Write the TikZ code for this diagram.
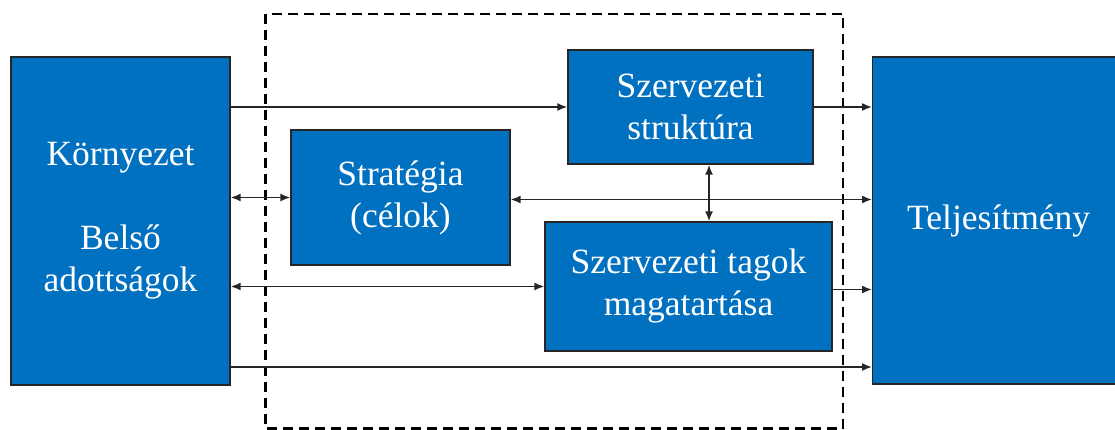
\documentclass[tikz,border=0pt]{standalone}
\usepackage{fontspec}
\setmainfont{Liberation Serif}
\usetikzlibrary{arrows.meta}
\definecolor{boxblue}{HTML}{0070C0}
\begin{document}
\begin{tikzpicture}[x=1pt,y=-1pt,
  box/.style={draw=black!85, line width=1.3pt, fill=boxblue, text=white, align=center,
    inner sep=0pt, font=\fontsize{35.5}{42}\selectfont},
  conn/.style={line width=1.6pt, draw=black!85, arrows={-Latex[length=10pt,width=8pt]}},
  conn2/.style={line width=1.6pt, draw=black!85, arrows={Latex[length=10pt,width=8pt]-Latex[length=10pt,width=8pt]}}]
\useasboundingbox (0,0) rectangle (1115,430);
\draw[line width=2.2pt, dash pattern=on 10pt off 6pt] (265.5,14) rectangle (843,428.5);
\node[box, minimum width=219pt, minimum height=328pt] (env) at (120.5,221) {Környezet\\[42pt]Belső\\adottságok};
\node[box, minimum width=260pt, minimum height=327pt, anchor=west] (perf) at (872,220.5) {\raisebox{-5pt}{Teljesítmény}\hspace*{8pt}};
\node[box, minimum width=219pt, minimum height=135pt] (strat) at (400.5,197.5) {Stratégia\\(célok)};
\node[box, minimum width=245pt, minimum height=114pt] (str) at (690.5,107) {Szervezeti\\struktúra};
\node[box, minimum width=287pt, minimum height=129pt] (beh) at (688.5,286.5) {Szervezeti tagok\\magatartása};
\draw[conn] (env.east |- str.west) -- (str.west);
\draw[conn] (str.east) -- (str.east -| perf.west);
\draw[conn2] (env.east |- strat.west) -- (strat.west);
\draw[conn2] ([yshift=-2pt]strat.east) -- ([yshift=-2pt]strat.east -| perf.west);
\draw[conn2] (str.south -| 709,0) -- (beh.north -| 709,0);
\draw[conn2] (env.east |- beh.west) -- (beh.west);
\draw[conn] ([yshift=-3pt]beh.east) -- ([yshift=-3pt]beh.east -| perf.west);
\draw[conn] (env.east |- 0,367) -- (perf.west |- 0,367);
\end{tikzpicture}
\end{document}
